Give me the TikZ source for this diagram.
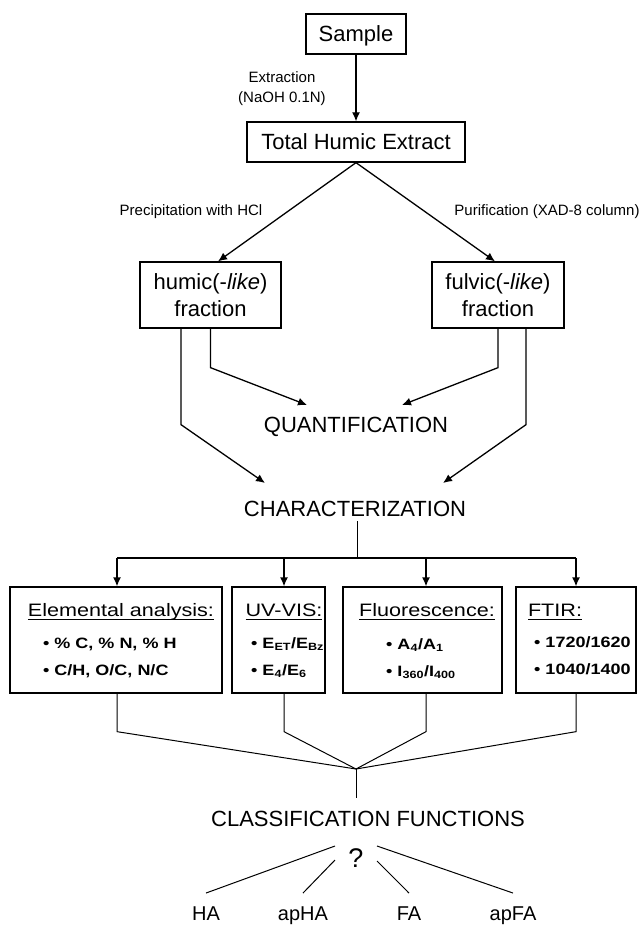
\documentclass[tikz,border=0pt]{standalone}
\usepackage{fontspec}
\setmainfont{Liberation Sans}
\newfontfamily\widesf{Liberation Sans}[FakeStretch=1.2]
\usetikzlibrary{arrows.meta,calc}
\newcommand{\boxtitle}[1]{\setbox0\hbox{#1}\rlap{\rule[-4pt]{\wd0}{1.3pt}}\box0}
\tikzset{
  stagebox/.style={draw,line width=1.3pt,inner sep=0pt,text depth=0pt,align=center,font=\fontsize{22}{27}\selectfont},
  steplabel/.style={inner sep=0pt,align=center,font=\fontsize{15}{20}\selectfont},
  bigtext/.style={inner sep=0pt,anchor=base,font=\fontsize{22}{26}\selectfont},
  outcome/.style={inner sep=0pt,anchor=base,font=\fontsize{20}{24}\selectfont},
  methodbox/.style={draw,line width=1.3pt,minimum height=106pt,inner sep=0pt},
  methodtitle/.style={inner sep=0pt,anchor=base,font=\widesf\fontsize{18}{22}\selectfont},
  methoditem/.style={inner sep=0pt,anchor=base west,font=\widesf\bfseries\fontsize{15}{18}\selectfont},
  flow/.style={line width=1.3pt,-{Latex[length=9pt,width=8pt]}},
  thinline/.style={line width=1pt},
}
\begin{document}
\begin{tikzpicture}[x=1pt,y=-1pt]
      \useasboundingbox (0,0) rectangle (644,925);
      % extraction
      \node[stagebox,minimum width=100pt,minimum height=40pt] (sample) at (356,34) {Sample};
      \node[stagebox,minimum width=218pt,minimum height=40pt] (total) at (356,142) {Total Humic Extract};
      \node[steplabel] (extr) at (282,89) {Extraction\\(NaOH 0.1N)};
      \draw[flow] (sample) -- (total);
      % fractionation
      \node[stagebox,minimum width=141pt,minimum height=66pt] (humic) at (210.5,295) {humic(-\textit{like})\\fraction};
      \node[stagebox,minimum width=132pt,minimum height=66pt] (fulvic) at (498,295) {fulvic(-\textit{like})\\fraction};
      \node[steplabel,anchor=base] (precip) at (191,215) {Precipitation with HCl};
      \node[steplabel,anchor=base] (purif) at (547,215) {Purification (XAD-8 column)};
      \draw[flow] (total.south) -- ([xshift=7.5pt]humic.north);
      \draw[flow] (total.south) -- ([xshift=-3pt]fulvic.north);
      % quantification / characterization
      \node[bigtext] (quant) at (356,432) {QUANTIFICATION};
      \node[bigtext] (charact) at (355,516) {CHARACTERIZATION};
      \coordinate (qL) at (307,405);
      \coordinate (qR) at (402,405);
      \coordinate (cL) at (265,483);
      \coordinate (cR) at (443,483);
      \draw[flow] (humic.south) -- ++(0,39) -- (qL);
      \draw[flow] ([xshift=-29.5pt]humic.south) -- ++(0,96) -- (cL);
      \draw[flow] (fulvic.south) -- ++(0,39) -- (qR);
      \draw[flow] ([xshift=28pt]fulvic.south) -- ++(0,96) -- (cR);
      % methods
      \node[methodbox,minimum width=212pt] (elem) at (116,640) {};
      \node[methodbox,minimum width=93pt] (uvvis) at (278.5,640) {};
      \node[methodbox,minimum width=159pt] (fluor) at (422.5,640) {};
      \node[methodbox,minimum width=120pt] (ftir) at (576,640) {};
      \coordinate (split) at (357,558);
      \coordinate (merge) at (356,769);
      \draw[thinline] (split |- charact.south) ++(0,5) -- (split);
      \foreach \b/\x in {elem/117,uvvis/284,fluor/426,ftir/576}{
        \coordinate (t\b) at (\x,558);
        \draw[flow] (t\b) -- (t\b |- \b.north);
        \draw[thinline] (t\b |- \b.south) -- ++(0,38) -- (merge);
      }
      \draw[line width=1.3pt] (telem) -- (tftir);
      \node[methodtitle] (elemT) at (121,616) {\boxtitle{Elemental analysis:}};
      \node[methoditem] (elem1) at (43,648) {• \% C, \% N, \% H};
      \node[methoditem] (elem2) at (43,675) {• C/H, O/C, N/C};
      \node[methodtitle] (uvT) at (284,616) {\boxtitle{UV-VIS:}};
      \node[methoditem] (uv1) at (251,648) {• E\textsubscript{ET}/E\textsubscript{Bz}};
      \node[methoditem] (uv2) at (251,675) {• E\textsubscript{4}/E\textsubscript{6}};
      \node[methodtitle] (flT) at (427,616) {\boxtitle{Fluorescence:}};
      \node[methoditem] (fl1) at (386,649) {• A\textsubscript{4}/A\textsubscript{1}};
      \node[methoditem] (fl2) at (386,676) {• I\textsubscript{360}/I\textsubscript{400}};
      \node[methodtitle] (ftT) at (555,616) {\boxtitle{FTIR:}};
      \node[methoditem] (ft1) at (534,647) {• 1720/1620};
      \node[methoditem] (ft2) at (534,674) {• 1040/1400};
      % classification
      \node[bigtext] (classif) at (368,826) {CLASSIFICATION FUNCTIONS};
      \coordinate (mergeEnd) at (356,798);
      \draw[thinline] (merge) -- (mergeEnd);
      \node[inner sep=0pt,anchor=base,font=\fontsize{27}{30}\selectfont] (qmark) at (356,867) {?};
      \node[outcome] (ha) at (206,920) {HA};
      \node[outcome] (apha) at (303,920) {apHA};
      \node[outcome] (fa) at (409,920) {FA};
      \node[outcome] (apfa) at (513,920) {apFA};
      \coordinate (qa) at (335,846);
      \coordinate (qb) at (335,860);
      \coordinate (qc) at (377,861);
      \coordinate (qd) at (377,846);
      \draw[thinline] (qa) -- ($(ha.north)+(0,-13)$);
      \draw[thinline] (qb) -- ($(apha.north)+(0,-13)$);
      \draw[thinline] (qc) -- ($(fa.north)+(0,-13)$);
      \draw[thinline] (qd) -- ($(apfa.north)+(0,-13)$);
\end{tikzpicture}
\end{document}
